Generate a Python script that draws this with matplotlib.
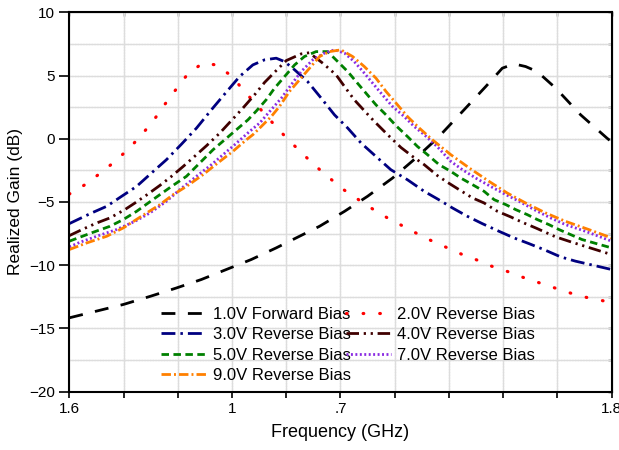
import numpy as np
import matplotlib
matplotlib.use('Agg')
import matplotlib.pyplot as plt
from matplotlib.ticker import MultipleLocator, FixedLocator, FixedFormatter

plt.rcParams['font.family'] = ['Liberation Sans', 'DejaVu Sans']

# ---- data (frequency in GHz, gain in dB) ----
f_fwd1 = [1.600, 1.610, 1.620, 1.630, 1.6395, 1.6487, 1.6579, 1.6671, 1.6763, 1.6849,
          1.6923, 1.7015, 1.7100, 1.7192, 1.7278, 1.7358, 1.7456, 1.7536, 1.7597, 1.7640,
          1.7683, 1.7726, 1.7794, 1.7886, 1.7983, 1.800]
g_fwd1 = [-14.16, -13.63, -13.10, -12.45, -11.80, -11.13, -10.34, -9.55, -8.63, -7.71,
          -6.92, -5.74, -4.55, -3.11, -1.53, 0.05, 2.29, 4.13, 5.58, 5.92,
          5.71, 5.31, 4.00, 1.89, 0.05, -0.25]

f_rev2 = [1.600, 1.6058, 1.6110, 1.6164, 1.6221, 1.6270, 1.6315, 1.6353, 1.6394, 1.6436,
          1.6491, 1.6542, 1.6598, 1.6647, 1.6696, 1.6745, 1.6796, 1.6849, 1.6904, 1.6957,
          1.7012, 1.7067, 1.7122, 1.7178, 1.7232, 1.7287, 1.7339, 1.7395, 1.7450, 1.7505,
          1.7558, 1.7613, 1.7668, 1.7722, 1.7777, 1.7830, 1.7886, 1.800]
g_rev2 = [-4.37, -3.63, -2.79, -1.87, -0.76, 0.39, 1.58, 2.74, 3.92, 5.10,
          5.97, 5.84, 4.97, 3.72, 2.55, 1.37, 0.18, -0.95, -2.08, -3.06,
          -4.03, -4.82, -5.60, -6.32, -6.92, -7.55, -8.10, -8.63, -9.16, -9.60,
          -10.08, -10.47, -10.92, -11.31, -11.70, -12.08, -12.45, -12.95]

f_rev3 = [1.600, 1.6082, 1.6138, 1.6193, 1.6248, 1.6303, 1.6358, 1.6414, 1.6469, 1.6524,
          1.6579, 1.6628, 1.6677, 1.6720, 1.6763, 1.6794, 1.6831, 1.6879, 1.6929, 1.6978,
          1.7027, 1.7076, 1.7131, 1.7186, 1.7247, 1.7309, 1.7358, 1.7413, 1.7468, 1.7523,
          1.7585, 1.7640, 1.7695, 1.7750, 1.7812, 1.7867, 1.800]
g_rev3 = [-6.71, -5.87, -5.34, -4.55, -3.77, -2.71, -1.66, -0.42, 0.84, 2.29,
          3.69, 4.92, 5.84, 6.24, 6.37, 6.10, 5.45, 4.52, 3.21, 1.89,
          0.84, -0.34, -1.40, -2.45, -3.24, -4.16, -4.76, -5.47, -6.13, -6.71,
          -7.32, -7.84, -8.29, -8.76, -9.34, -9.68, -10.34]

f_rev4 = [1.600, 1.6052, 1.6101, 1.6150, 1.6205, 1.6242, 1.6287, 1.6334, 1.6377, 1.6420,
          1.6469, 1.6506, 1.6555, 1.6603, 1.6640, 1.6683, 1.6720, 1.6757, 1.6800, 1.6855,
          1.6885, 1.6935, 1.6984, 1.7015, 1.7051, 1.7094, 1.7125, 1.7174, 1.7223, 1.7266,
          1.7309, 1.7358, 1.7395, 1.7438, 1.7487, 1.7530, 1.7579, 1.7628, 1.7671, 1.7720,
          1.7794, 1.7855, 1.800]
g_rev4 = [-7.66, -7.13, -6.66, -6.26, -5.60, -5.08, -4.42, -3.69, -2.97, -2.19,
          -1.26, -0.55, 0.45, 1.56, 2.42, 3.47, 4.45, 5.26, 6.18, 6.71,
          6.80, 5.97, 5.05, 4.13, 3.08, 2.08, 1.37, 0.32, -0.69, -1.40,
          -2.05, -2.92, -3.45, -4.03, -4.68, -5.08, -5.74, -6.18, -6.61, -7.05,
          -7.76, -8.19, -9.16]

f_rev5 = [1.600, 1.6082, 1.6150, 1.6199, 1.6248, 1.6291, 1.6334, 1.6377, 1.6432, 1.6487,
          1.6530, 1.6573, 1.6616, 1.6659, 1.6690, 1.6726, 1.6757, 1.6794, 1.6831, 1.6867,
          1.6910, 1.6953, 1.6990, 1.7027, 1.7063, 1.7094, 1.7131, 1.7168, 1.7205, 1.7247,
          1.7284, 1.7321, 1.7364, 1.7407, 1.7444, 1.7487, 1.7530, 1.7567, 1.7610, 1.7646,
          1.7689, 1.7726, 1.7769, 1.7806, 1.7849, 1.7891, 1.800]
g_rev5 = [-8.10, -7.44, -6.92, -6.39, -5.74, -5.08, -4.42, -3.77, -2.97, -1.79,
          -0.87, -0.08, 0.71, 1.50, 2.20, 3.08, 4.00, 4.92, 5.84, 6.50,
          6.89, 6.89, 6.10, 5.31, 4.39, 3.61, 2.68, 1.89, 1.03, 0.18,
          -0.61, -1.26, -2.05, -2.58, -3.11, -3.63, -4.16, -4.82, -5.21, -5.60,
          -6.00, -6.39, -6.79, -7.18, -7.58, -7.97, -8.63]

f_rev7 = [1.600, 1.6039, 1.6101, 1.6174, 1.6242, 1.6297, 1.6358, 1.6407, 1.6469, 1.6524,
          1.6567, 1.6610, 1.6665, 1.6702, 1.6739, 1.6782, 1.6818, 1.6855, 1.6898, 1.6941,
          1.6978, 1.7015, 1.7051, 1.7088, 1.7119, 1.7155, 1.7192, 1.7235, 1.7272, 1.7309,
          1.7358, 1.7407, 1.7450, 1.7499, 1.7554, 1.7603, 1.7659, 1.7714, 1.7775, 1.7830,
          1.7904, 1.800]
g_rev7 = [-8.55, -8.19, -7.71, -7.18, -6.53, -5.87, -4.95, -4.03, -2.97, -2.05,
          -1.26, -0.47, 0.58, 1.24, 2.16, 3.21, 4.26, 5.31, 6.24, 6.77,
          7.03, 6.77, 6.10, 5.19, 4.39, 3.47, 2.55, 1.76, 0.97, 0.32,
          -0.65, -1.79, -2.45, -3.11, -3.77, -4.34, -4.95, -5.60, -6.26, -6.79,
          -7.32, -8.10]

f_rev9 = [1.600, 1.6064, 1.6138, 1.6199, 1.6266, 1.6334, 1.6383, 1.6432, 1.6493, 1.6555,
          1.6603, 1.6653, 1.6677, 1.6708, 1.6745, 1.6775, 1.6812, 1.6849, 1.6886, 1.6923,
          1.6959, 1.7002, 1.7045, 1.7088, 1.7131, 1.7168, 1.7205, 1.7247, 1.7291, 1.7339,
          1.7407, 1.7475, 1.7548, 1.7615, 1.7683, 1.7757, 1.7830, 1.7916, 1.800]
g_rev9 = [-8.76, -8.24, -7.71, -7.05, -6.13, -5.21, -4.42, -3.77, -2.84, -1.79,
          -1.00, -0.08, 0.32, 0.97, 1.76, 2.55, 3.74, 4.66, 5.58, 6.50,
          6.89, 7.03, 6.50, 5.71, 4.79, 3.74, 2.82, 1.76, 0.84, -0.08,
          -1.26, -2.31, -3.37, -4.29, -5.08, -5.87, -6.53, -7.18, -7.84]

x_ticks = [1.60, 1.62, 1.64, 1.66, 1.68, 1.70, 1.72, 1.74, 1.76, 1.78, 1.80]
x_tick_labels = ['1.6', '', '', '1', '', '.7', '', '', '', '', '1.8']

# ---- figure ----
fig = plt.figure(figsize=(6.19, 4.5), dpi=100)
ax = fig.add_axes([0.112, 0.1296, 0.876, 0.8431])

lw = 2.0
l1, = ax.plot(f_fwd1, g_fwd1, color='black', lw=lw, dashes=(5.0, 4.5), label='1.0V Forward Bias')
l2, = ax.plot(f_rev2, g_rev2, color='#ff0000', lw=2.3, dashes=(0.2, 5.0),
              dash_capstyle='round', label='2.0V Reverse Bias')
l3, = ax.plot(f_rev3, g_rev3, color='#000080', lw=lw, dashes=(5.0, 1.8, 0.9, 1.8), label='3.0V Reverse Bias')
l4, = ax.plot(f_rev4, g_rev4, color='#400000', lw=lw, dashes=(4.5, 1.7, 0.8, 1.7, 0.8, 1.7), label='4.0V Reverse Bias')
l5, = ax.plot(f_rev5, g_rev5, color='#008000', lw=lw, dashes=(2.7, 1.6), label='5.0V Reverse Bias')
l7, = ax.plot(f_rev7, g_rev7, color='#8a2be2', lw=lw, dashes=(0.7, 0.9), label='7.0V Reverse Bias')
l9, = ax.plot(f_rev9, g_rev9, color='#ff8000', lw=lw, dashes=(3.4, 1.1, 0.7, 1.1), label='9.0V Reverse Bias')

ax.set_xlim(1.6, 1.8)
ax.set_ylim(-20, 10)

ax.xaxis.set_major_locator(FixedLocator(x_ticks))
ax.xaxis.set_major_formatter(FixedFormatter(x_tick_labels))
ax.yaxis.set_major_locator(MultipleLocator(5))
ax.yaxis.set_minor_locator(MultipleLocator(2.5))

ax.tick_params(axis='both', which='major', labelsize=11, direction='out', width=1.2)
ax.tick_params(axis='x', which='major', length=4)
ax.tick_params(axis='y', which='major', length=7)
ax.tick_params(axis='y', which='minor', length=0)

# grid: light solid with a dotted overlay
ax.grid(True, which='both', color='#dddddd', linestyle='-', lw=1.0, zorder=0)
for x in x_ticks[1:-1]:
    ax.axvline(x, color='#8c8c8c', ls=(0, (1, 1.5)), lw=0.8, zorder=0.5)
for y in np.arange(-17.5, 10, 2.5):
    ax.axhline(y, color='#8c8c8c', ls=(0, (1, 1.5)), lw=0.8, zorder=0.5)
ax.set_axisbelow(True)

for s in ax.spines.values():
    s.set_linewidth(1.5)

# inward ticks on the right and top spines
sec_y = ax.secondary_yaxis('right')
sec_y.yaxis.set_major_locator(MultipleLocator(2.5))
sec_y.tick_params(direction='in', length=3, labelright=False, width=1.0)
sec_x = ax.secondary_xaxis('top')
sec_x.xaxis.set_major_locator(FixedLocator(x_ticks))
sec_x.tick_params(direction='in', length=3, labeltop=False, width=1.0)

ax.set_xlabel('Frequency (GHz)', fontsize=13, labelpad=6)
ax.set_ylabel('Realized Gain (dB)', fontsize=12.5, labelpad=4)

handles = [l1, l3, l5, l9, l2, l4, l7]
ax.legend(handles, [h.get_label() for h in handles], ncol=2, loc='upper left',
          bbox_to_anchor=(0.163, 0.232), frameon=False, fontsize=12,
          handlelength=2.7, handletextpad=0.4, columnspacing=-0.3,
          labelspacing=0.32, borderpad=0.2, borderaxespad=0)

fig.savefig('out.png', dpi=100)
